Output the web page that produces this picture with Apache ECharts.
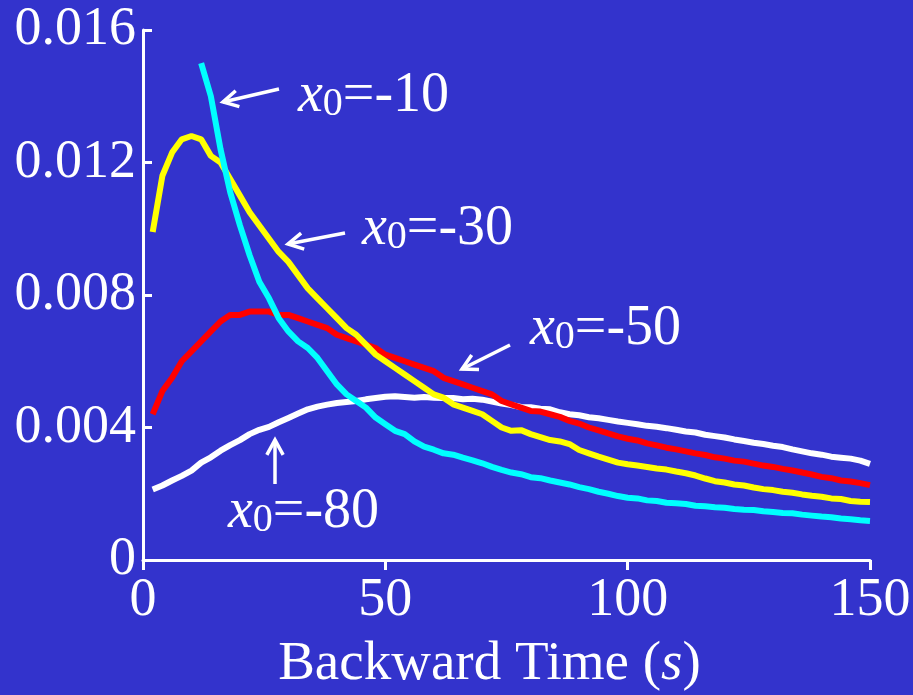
<!DOCTYPE html>
<html>
<head>
<meta charset="utf-8">
<script src="https://cdn.jsdelivr.net/npm/echarts@6/dist/echarts.min.js"></script>
<style>
    html, body {margin: 0; padding: 0; background: #3333cc;}
    #main {width: 913px; height: 695px;}
</style>
</head>
<body>
<div id="main"></div>
<script>
// backward time (s), sampled every 2 s
const times = [2, 4, 6, 8, 10, 12, 14, 16, 18, 20, 22, 24, 26, 28, 30, 32, 34, 36, 38, 40,
    42, 44, 46, 48, 50, 52, 54, 56, 58, 60, 62, 64, 66, 68, 70, 72, 74, 76, 78, 80,
    82, 84, 86, 88, 90, 92, 94, 96, 98, 100, 102, 104, 106, 108, 110, 112, 114, 116, 118, 120,
    122, 124, 126, 128, 130, 132, 134, 136, 138, 140, 142, 144, 146, 148, 150];

// x0 = -10 (cyan), starts at t = 12
const x0m10 = [null, null, null, null, null, 0.0150, 0.0140, 0.0124, 0.0111, 0.0101,
    0.0092, 0.0084, 0.0079, 0.0073, 0.0069, 0.0066, 0.0064, 0.0061, 0.0057, 0.0053,
    0.0050, 0.0048, 0.0046, 0.0043, 0.0041, 0.0039, 0.0038, 0.00358, 0.00342, 0.00333,
    0.00322, 0.00318, 0.00309, 0.00301, 0.00292, 0.00281, 0.00272, 0.00264, 0.00259, 0.00250,
    0.00247, 0.00240, 0.00234, 0.00228, 0.00220, 0.00214, 0.00206, 0.00200, 0.00193, 0.00188,
    0.00186, 0.00180, 0.00178, 0.00173, 0.00171, 0.00169, 0.00164, 0.00162, 0.00159, 0.00158,
    0.00154, 0.00152, 0.00151, 0.00147, 0.00145, 0.00142, 0.00141, 0.00137, 0.00134, 0.00131,
    0.00129, 0.00125, 0.00123, 0.00120, 0.00118];

// x0 = -30 (yellow)
const x0m30 = [0.0099, 0.0116, 0.0123, 0.0127, 0.0128, 0.0127, 0.0122, 0.0120, 0.0115, 0.0110,
    0.0105, 0.0101, 0.0097, 0.0093, 0.0090, 0.0086, 0.0082, 0.0079, 0.0076, 0.0073,
    0.0070, 0.0068, 0.0065, 0.0062, 0.0060, 0.0058, 0.0056, 0.0054, 0.0052, 0.0050,
    0.0049, 0.0047, 0.0046, 0.0045, 0.0044, 0.0042, 0.0040, 0.0039, 0.00392, 0.00380,
    0.00371, 0.00362, 0.00358, 0.00350, 0.00332, 0.00322, 0.00312, 0.00303, 0.00294, 0.00289,
    0.00285, 0.00281, 0.00276, 0.00273, 0.00267, 0.00262, 0.00255, 0.00246, 0.00238, 0.00234,
    0.00228, 0.00225, 0.00219, 0.00214, 0.00211, 0.00206, 0.00203, 0.00198, 0.00194, 0.00191,
    0.00186, 0.00184, 0.00178, 0.00176, 0.00175];

// x0 = -50 (red)
const x0m50 = [0.0044, 0.0051, 0.0055, 0.0060, 0.0063, 0.0066, 0.0069, 0.0072, 0.0074, 0.0074,
    0.0075, 0.0075, 0.0075, 0.0074, 0.0074, 0.0073, 0.0072, 0.0071, 0.0070, 0.0068,
    0.0067, 0.0066, 0.0065, 0.0064, 0.0062, 0.0061, 0.0060, 0.0059, 0.0058, 0.0057,
    0.0055, 0.0054, 0.0053, 0.0052, 0.0051, 0.0050, 0.0048, 0.0047, 0.0046, 0.0045,
    0.00448, 0.00440, 0.00432, 0.00420, 0.00412, 0.00400, 0.00391, 0.00382, 0.00373, 0.00366,
    0.00361, 0.00352, 0.00346, 0.00339, 0.00334, 0.00328, 0.00322, 0.00317, 0.00310, 0.00306,
    0.00300, 0.00297, 0.00291, 0.00285, 0.00281, 0.00275, 0.00270, 0.00264, 0.00258, 0.00251,
    0.00247, 0.00240, 0.00237, 0.00232, 0.00226];

// x0 = -80 (white)
const x0m80 = [0.00213, 0.00225, 0.00240, 0.00254, 0.00270, 0.00294, 0.00310, 0.00330, 0.00347, 0.00362,
    0.00380, 0.00393, 0.00402, 0.00416, 0.00429, 0.00442, 0.00455, 0.00463, 0.00469, 0.00474,
    0.00477, 0.00480, 0.00485, 0.00489, 0.00493, 0.00494, 0.00492, 0.00490, 0.00492, 0.00490,
    0.00489, 0.00489, 0.00485, 0.00487, 0.00484, 0.00478, 0.00472, 0.00468, 0.00462, 0.00461,
    0.00457, 0.00455, 0.00446, 0.00440, 0.00437, 0.00431, 0.00428, 0.00423, 0.00418, 0.00414,
    0.00410, 0.00405, 0.00402, 0.00398, 0.00393, 0.00388, 0.00385, 0.00378, 0.00374, 0.00370,
    0.00364, 0.00359, 0.00354, 0.00350, 0.00345, 0.00341, 0.00334, 0.00328, 0.00322, 0.00318,
    0.00312, 0.00309, 0.00306, 0.00300, 0.00290];

const xTicks = [0, 50, 100, 150];
const yTicks = [0, 0.004, 0.008, 0.012, 0.016];

const FONT = '"Liberation Serif", "Times New Roman", serif';

const pairs = vals => times.map((t, i) => [t, vals[i]]).filter(p => p[1] !== null);

const myChart = echarts.init(document.getElementById('main'));

// label with italic x, small upright subscript 0
const annotText = (val, x, y) => ({
    type: 'text',
    x: x,
    y: y,
    style: {
        text: '{i|x}{s|0}{n|=' + val + '}',
        fill: '#fff',
        font: '56px ' + FONT,
        rich: {
            i: {fontFamily: FONT, fontSize: 56, fontStyle: 'italic', fill: '#fff', lineHeight: 56, verticalAlign: 'bottom'},
            s: {fontFamily: FONT, fontSize: 40, fill: '#fff', lineHeight: 30, verticalAlign: 'bottom'},
            n: {fontFamily: FONT, fontSize: 56, fill: '#fff', lineHeight: 56, verticalAlign: 'bottom'}
        }
    },
    z: 10
});

// arrow from tail to tip with open head
const arrow = (x1, y1, x2, y2) => {
    const ang = Math.atan2(y1 - y2, x1 - x2);
    const len = 17, spread = 0.5;
    const h1 = [x2 + len * Math.cos(ang + spread), y2 + len * Math.sin(ang + spread)];
    const h2 = [x2 + len * Math.cos(ang - spread), y2 + len * Math.sin(ang - spread)];
    return [
        {type: 'polyline', shape: {points: [[x1, y1], [x2, y2]]}, style: {stroke: '#fff', lineWidth: 3.5}, z: 10},
        {type: 'polyline', shape: {points: [h1, [x2, y2], h2]}, style: {stroke: '#fff', lineWidth: 3.5, lineJoin: 'miter', fill: null}, z: 10}
    ];
};

const option = {
    backgroundColor: '#3333cc',
    animation: false,
    grid: {left: 143, right: 43, top: 30, bottom: 135, containLabel: false, outerBoundsMode: 'none'},
    xAxis: {
        type: 'value',
        min: xTicks[0],
        max: xTicks[xTicks.length - 1],
        interval: 50,
        name: 'Backward Time ({it|s})',
        nameLocation: 'middle',
        nameGap: 77,
        nameTextStyle: {
            color: '#fff', fontFamily: FONT, fontSize: 55,
            padding: [0, 34, 0, 0],
            rich: {it: {fontFamily: FONT, fontSize: 55, fontStyle: 'italic', color: '#fff'}}
        },
        axisLine: {lineStyle: {color: '#fff', width: 3}},
        axisTick: {inside: false, length: 10, lineStyle: {color: '#fff', width: 3}},
        axisLabel: {color: '#fff', fontFamily: FONT, fontSize: 54, margin: 14},
        splitLine: {show: false}
    },
    yAxis: {
        type: 'value',
        min: yTicks[0],
        max: yTicks[yTicks.length - 1],
        interval: 0.004,
        axisLine: {show: true, lineStyle: {color: '#fff', width: 3}},
        axisTick: {show: true, inside: true, length: 9, lineStyle: {color: '#fff', width: 3}},
        axisLabel: {
            color: '#fff', fontFamily: FONT, fontSize: 54, margin: 7,
            formatter: v => v === 0 ? '0' : v.toFixed(3)
        },
        splitLine: {show: false}
    },
    series: [
        {name: 'x0=-80', type: 'line', data: pairs(x0m80), showSymbol: false, lineStyle: {color: '#ffffff', width: 6}, itemStyle: {color: '#ffffff'}},
        {name: 'x0=-50', type: 'line', data: pairs(x0m50), showSymbol: false, lineStyle: {color: '#ff0000', width: 6}, itemStyle: {color: '#ff0000'}},
        {name: 'x0=-30', type: 'line', data: pairs(x0m30), showSymbol: false, lineStyle: {color: '#ffff00', width: 6}, itemStyle: {color: '#ffff00'}},
        {name: 'x0=-10', type: 'line', data: pairs(x0m10), showSymbol: false, lineStyle: {color: '#00ffff', width: 6}, itemStyle: {color: '#00ffff'}}
    ],
    graphic: [
        annotText('-10', 298, 68),
        ...arrow(279, 89, 223, 102),
        annotText('-30', 362, 201),
        ...arrow(345, 233, 288, 244),
        annotText('-50', 530, 301),
        ...arrow(510, 345, 462, 369),
        annotText('-80', 228, 484),
        ...arrow(275, 484, 275, 440)
    ]
};

myChart.setOption(option);
</script>
</body>
</html>
